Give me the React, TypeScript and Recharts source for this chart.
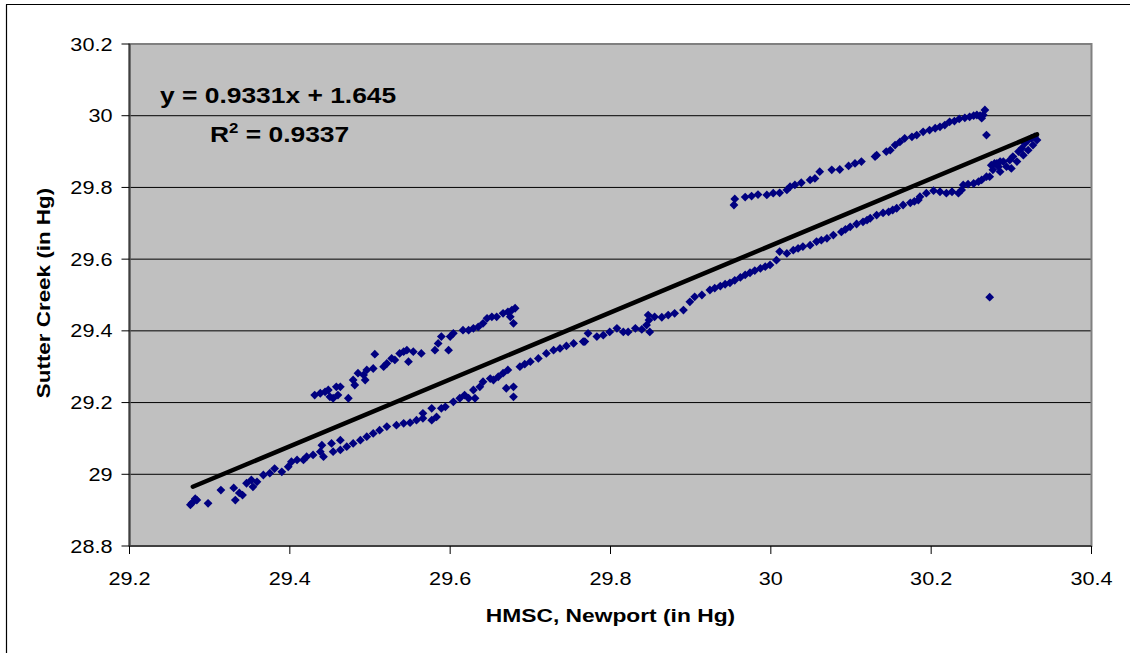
import * as React from 'react';
import {
  ScatterChart,
  Scatter,
  XAxis,
  YAxis,
  CartesianGrid,
  ReferenceArea
} from 'recharts';

// HMSC Newport (x) vs Sutter Creek (y), barometric pressure in inches Hg
const lowerTrack: number[][] = [
  [29.278, 28.920], [29.282, 28.932], [29.276, 28.915], [29.284, 28.928], [29.298, 28.919],
  [29.314, 28.956], [29.332, 28.928], [29.330, 28.962], [29.337, 28.948], [29.341, 28.942],
  [29.346, 28.975], [29.352, 28.984], [29.354, 28.965], [29.359, 28.979], [29.367, 28.998],
  [29.375, 29.003], [29.381, 29.016], [29.390, 29.007], [29.398, 29.021], [29.402, 29.035],
  [29.409, 29.040], [29.417, 29.040], [29.421, 29.049], [29.429, 29.054], [29.438, 29.063],
  [29.442, 29.049], [29.440, 29.081], [29.452, 29.086], [29.454, 29.063], [29.463, 29.095],
  [29.463, 29.068], [29.471, 29.077], [29.479, 29.086], [29.488, 29.095], [29.496, 29.105],
  [29.504, 29.114], [29.512, 29.123], [29.521, 29.133], [29.533, 29.137], [29.542, 29.142],
  [29.550, 29.144], [29.558, 29.151], [29.566, 29.170], [29.566, 29.156], [29.577, 29.184],
  [29.577, 29.151], [29.583, 29.160], [29.589, 29.184], [29.594, 29.188], [29.604, 29.202],
  [29.612, 29.212], [29.618, 29.221], [29.623, 29.212], [29.631, 29.212], [29.629, 29.235],
  [29.637, 29.244], [29.641, 29.258], [29.650, 29.267], [29.654, 29.263], [29.660, 29.272],
  [29.666, 29.282], [29.672, 29.291], [29.670, 29.240], [29.679, 29.244], [29.679, 29.216],
  [29.687, 29.300], [29.693, 29.307], [29.700, 29.314], [29.710, 29.323], [29.720, 29.337],
  [29.729, 29.346], [29.737, 29.351], [29.745, 29.358], [29.754, 29.365], [29.766, 29.370],
  [29.772, 29.393], [29.768, 29.370], [29.783, 29.384], [29.791, 29.388], [29.799, 29.397],
  [29.808, 29.407], [29.816, 29.397], [29.822, 29.397], [29.831, 29.407], [29.839, 29.404],
  [29.845, 29.416], [29.847, 29.444], [29.849, 29.397], [29.848, 29.430], [29.855, 29.439],
  [29.864, 29.438], [29.872, 29.444], [29.880, 29.449], [29.891, 29.458], [29.899, 29.481],
  [29.905, 29.495], [29.914, 29.500], [29.924, 29.514], [29.930, 29.519], [29.937, 29.525],
  [29.943, 29.530], [29.949, 29.534], [29.955, 29.541], [29.962, 29.549], [29.968, 29.556],
  [29.974, 29.562], [29.980, 29.568], [29.987, 29.574], [29.993, 29.579], [29.999, 29.584],
  [30.007, 29.597], [30.011, 29.621], [30.020, 29.616], [30.028, 29.625], [30.034, 29.630],
  [30.040, 29.635], [30.049, 29.639], [30.057, 29.649], [30.063, 29.653], [30.070, 29.658],
  [30.078, 29.667], [30.088, 29.676], [30.093, 29.683], [30.099, 29.690], [30.107, 29.698],
  [30.115, 29.704], [30.120, 29.709], [30.124, 29.714], [30.132, 29.723], [30.140, 29.729],
  [30.147, 29.732], [30.152, 29.737], [30.157, 29.742], [30.165, 29.751], [30.174, 29.757],
  [30.179, 29.761], [30.184, 29.765], [30.186, 29.774], [30.194, 29.784], [30.203, 29.791],
  [30.211, 29.788], [30.219, 29.784], [30.226, 29.788], [30.234, 29.784], [30.238, 29.793]
];

const rightCluster: number[][] = [
  [30.240, 29.807], [30.246, 29.809], [30.253, 29.811], [30.259, 29.816], [30.263, 29.821],
  [30.269, 29.830], [30.273, 29.830], [30.277, 29.849], [30.282, 29.867], [30.286, 29.872],
  [30.275, 29.862], [30.279, 29.867], [30.284, 29.858], [30.286, 29.844], [30.290, 29.872],
  [30.294, 29.858], [30.298, 29.876], [30.302, 29.886], [30.309, 29.900], [30.313, 29.909],
  [30.317, 29.923], [30.321, 29.932], [30.325, 29.937], [30.329, 29.941], [30.332, 29.932],
  [30.327, 29.918], [30.321, 29.904], [30.315, 29.890], [30.307, 29.872], [30.300, 29.853]
];

const upperLeftTrack: number[][] = [
  [29.431, 29.221], [29.438, 29.226], [29.444, 29.230], [29.448, 29.235], [29.450, 29.216],
  [29.454, 29.212], [29.458, 29.244], [29.463, 29.244], [29.460, 29.221], [29.473, 29.212],
  [29.479, 29.263], [29.481, 29.249], [29.485, 29.282], [29.492, 29.277], [29.496, 29.291],
  [29.494, 29.263], [29.504, 29.295], [29.506, 29.335], [29.517, 29.300], [29.521, 29.309],
  [29.527, 29.323], [29.531, 29.319], [29.537, 29.337], [29.542, 29.342], [29.546, 29.346],
  [29.548, 29.314], [29.554, 29.342], [29.564, 29.337], [29.581, 29.346], [29.585, 29.365],
  [29.589, 29.384], [29.598, 29.346], [29.600, 29.384], [29.604, 29.393], [29.616, 29.402],
  [29.623, 29.402], [29.629, 29.407], [29.635, 29.411], [29.641, 29.421], [29.646, 29.435],
  [29.652, 29.439], [29.658, 29.439], [29.666, 29.449], [29.672, 29.453], [29.677, 29.458],
  [29.681, 29.463], [29.675, 29.439], [29.679, 29.421]
];

const upperRightTrack: number[][] = [
  [29.954, 29.751], [29.955, 29.768], [29.968, 29.773], [29.976, 29.776], [29.984, 29.780],
  [29.995, 29.779], [30.003, 29.784], [30.011, 29.785], [30.020, 29.793], [30.024, 29.802],
  [30.030, 29.807], [30.038, 29.813], [30.049, 29.821], [30.055, 29.825], [30.061, 29.844],
  [30.076, 29.849], [30.086, 29.850], [30.097, 29.860], [30.105, 29.867], [30.113, 29.872],
  [30.130, 29.886], [30.132, 29.890], [30.144, 29.900], [30.149, 29.904], [30.155, 29.918],
  [30.161, 29.927], [30.167, 29.937], [30.176, 29.941], [30.182, 29.946], [30.190, 29.955],
  [30.198, 29.960], [30.205, 29.965], [30.211, 29.969], [30.217, 29.974], [30.223, 29.983],
  [30.229, 29.985], [30.235, 29.991], [30.242, 29.994], [30.248, 29.997], [30.253, 30.000],
  [30.257, 30.002], [30.261, 30.000], [30.263, 29.993], [30.265, 30.002], [30.267, 30.016]
];

const outliers: number[][] = [[30.269, 29.946], [30.273, 29.494]];

// linear trendline shown on the chart
const trendSlope = 0.9331;
const trendIntercept = 1.645;
const trendRange = [29.279, 30.332];

const xTicks = [29.2, 29.4, 29.6, 29.8, 30, 30.2, 30.4];
const yTicks = [28.8, 29, 29.2, 29.4, 29.6, 29.8, 30, 30.2];

const FONT = '"Liberation Sans", Arial, sans-serif';

const points = [...lowerTrack, ...rightCluster, ...upperLeftTrack, ...upperRightTrack, ...outliers]
  .map(([x, y]) => ({ x, y }));
const trend = trendRange.map(x => ({ x, y: trendSlope * x + trendIntercept }));

const Diamond = (props: any) => {
  const { cx, cy } = props;
  const r = 4.4;
  return <path d={`M${cx},${cy - r}L${cx + r},${cy}L${cx},${cy + r}L${cx - r},${cy}Z`} fill="#000080" />;
};

const XTick = (props: any) => {
  const { x, y, payload } = props;
  return (
    <text transform={`translate(${x},${y + 29}) scale(1.14,1)`} textAnchor="middle"
      fontFamily={FONT} fontSize={19} fill="#000">
      {String(payload.value)}
    </text>
  );
};

const YTick = (props: any) => {
  const { x, y, payload } = props;
  return (
    <text transform={`translate(${x - 7},${y + 6.5}) scale(1.14,1)`} textAnchor="end"
      fontFamily={FONT} fontSize={19} fill="#000">
      {String(payload.value)}
    </text>
  );
};

export default function App() {
  return (
    <div style={{ position: 'absolute', left: 0, top: 0, width: 1130, height: 653, background: '#fff' }}>
      <ScatterChart width={1130} height={653} margin={{ top: 44, right: 38.5, bottom: 67, left: 59.5 }}>
        <CartesianGrid
          vertical={false}
          horizontalValues={yTicks.slice(1, -1)}
          stroke="#000"
          strokeOpacity={1}
          fill="#C0C0C0"
          fillOpacity={1}
        />
        <ReferenceArea x1={29.2} x2={30.4} y1={28.8} y2={30.2} fill="none" stroke="#808080" strokeWidth={2} />
        <XAxis
          type="number"
          dataKey="x"
          domain={[29.2, 30.4]}
          ticks={xTicks}
          height={40}
          tickSize={8}
          tickMargin={2}
          axisLine={{ stroke: '#000' }}
          tickLine={{ stroke: '#000' }}
          tick={<XTick />}
          interval={0}
        />
        <YAxis
          type="number"
          dataKey="y"
          domain={[28.8, 30.2]}
          ticks={yTicks}
          width={70}
          tickSize={8}
          tickMargin={2}
          axisLine={{ stroke: '#404040', strokeWidth: 2 }}
          tickLine={{ stroke: '#000' }}
          tick={<YTick />}
          interval={0}
        />
        <Scatter data={points} shape={<Diamond />} isAnimationActive={false} />
        <Scatter
          data={trend}
          line={{ stroke: '#000', strokeWidth: 4.5, strokeLinecap: 'round' }}
          shape={() => <g />}
          isAnimationActive={false}
        />
      </ScatterChart>
      <svg width={1130} height={653} style={{ position: 'absolute', left: 0, top: 0, pointerEvents: 'none' }}>
        <line x1={6.5} y1={4.5} x2={6.5} y2={653} stroke="#000" strokeWidth={1.2} />
        <line x1={6} y1={4.5} x2={1130} y2={4.5} stroke="#000" strokeWidth={1.2} />
        <g fontFamily={FONT} fontWeight="bold" fill="#000">
          <text transform="translate(160,103) scale(1.2,1)" fontSize={22}>y = 0.9331x + 1.645</text>
          <text transform="translate(210,142) scale(1.2,1)" fontSize={22}>
            R<tspan dy={-9} fontSize={14}>2</tspan><tspan dy={9}> = 0.9337</tspan>
          </text>
          <text transform="translate(610.5,622) scale(1.2,1)" textAnchor="middle" fontSize={19}>
            HMSC, Newport (in Hg)
          </text>
          <text transform="translate(50,293) rotate(-90) scale(1.18,1)" textAnchor="middle" fontSize={19}>
            Sutter Creek (in Hg)
          </text>
        </g>
      </svg>
    </div>
  );
}
